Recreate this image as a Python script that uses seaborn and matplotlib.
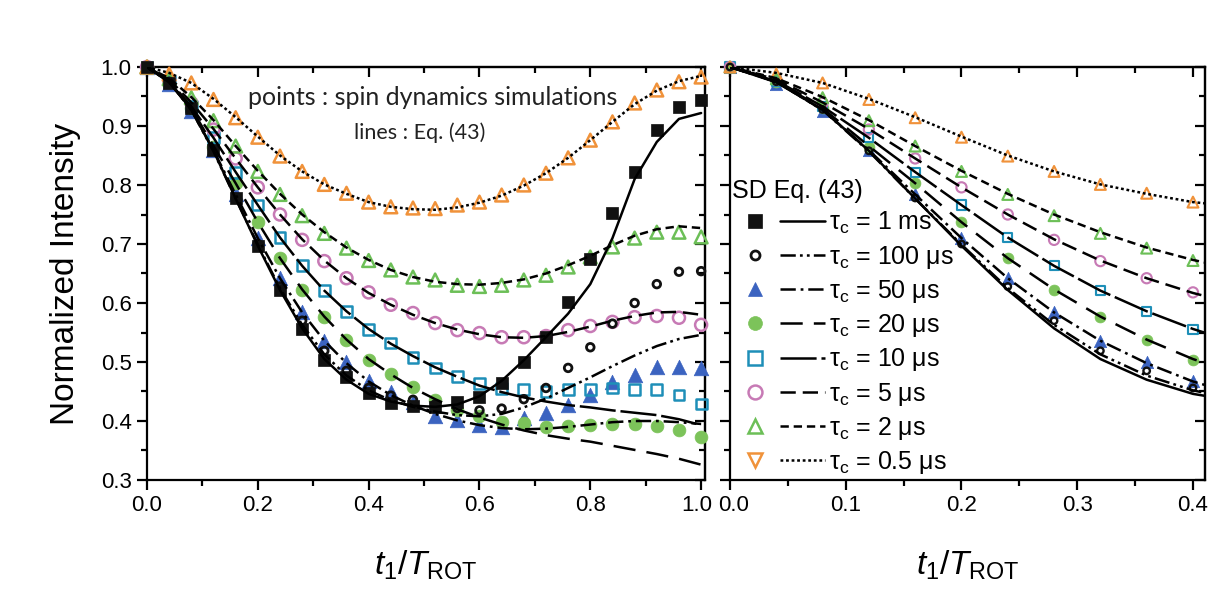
import matplotlib
matplotlib.use("Agg")
import matplotlib.pyplot as plt
import matplotlib.transforms as mtransforms
import seaborn as sns
from matplotlib.ticker import MultipleLocator, FormatStrFormatter, NullFormatter
from matplotlib.lines import Line2D
from matplotlib.legend_handler import HandlerTuple

sns.set_theme(style="white")
plt.rcParams['font.family'] = ['Liberation Sans', 'DejaVu Sans']
plt.rcParams['mathtext.fontset'] = 'custom'
plt.rcParams['mathtext.rm'] = 'Liberation Sans'
plt.rcParams['mathtext.it'] = 'Liberation Sans:italic'
plt.rcParams['mathtext.bf'] = 'Liberation Sans:bold'
plt.rcParams['lines.scale_dashes'] = False

# ---------------- data ----------------
t1 = [0.00, 0.04, 0.08, 0.12, 0.16, 0.20, 0.24, 0.28, 0.32, 0.36, 0.40, 0.44, 0.48,
      0.52, 0.56, 0.60, 0.64, 0.68, 0.72, 0.76, 0.80, 0.84, 0.88, 0.92, 0.96, 1.00]

# spin dynamics simulations (points)
sd_1ms = [1.000, 0.973, 0.930, 0.860, 0.778, 0.697, 0.622, 0.556, 0.503, 0.475, 0.447, 0.431, 0.426,
          0.424, 0.432, 0.441, 0.464, 0.500, 0.542, 0.602, 0.675, 0.752, 0.822, 0.893, 0.932, 0.944]
sd_100us = [1.000, 0.975, 0.928, 0.858, 0.778, 0.700, 0.628, 0.570, 0.519, 0.485, 0.456, 0.443, 0.436,
            0.428, 0.422, 0.418, 0.421, 0.437, 0.456, 0.490, 0.525, 0.565, 0.600, 0.632, 0.653, 0.654]
sd_50us = [1.000, 0.972, 0.926, 0.860, 0.785, 0.710, 0.642, 0.585, 0.535, 0.500, 0.467, 0.449, 0.433,
           0.408, 0.402, 0.394, 0.390, 0.405, 0.414, 0.427, 0.444, 0.466, 0.478, 0.492, 0.492, 0.489]
sd_20us = [1.000, 0.974, 0.930, 0.865, 0.803, 0.737, 0.676, 0.622, 0.576, 0.537, 0.504, 0.480, 0.458,
           0.436, 0.419, 0.408, 0.398, 0.397, 0.390, 0.392, 0.393, 0.395, 0.395, 0.392, 0.384, 0.373]
sd_10us = [1.000, 0.976, 0.933, 0.880, 0.821, 0.766, 0.711, 0.664, 0.621, 0.586, 0.555, 0.532, 0.508,
           0.490, 0.475, 0.464, 0.455, 0.453, 0.450, 0.453, 0.454, 0.456, 0.454, 0.453, 0.444, 0.429]
sd_5us = [1.000, 0.978, 0.939, 0.894, 0.845, 0.796, 0.750, 0.707, 0.671, 0.642, 0.618, 0.597, 0.583,
          0.566, 0.554, 0.549, 0.542, 0.542, 0.544, 0.554, 0.561, 0.568, 0.576, 0.578, 0.575, 0.563]
sd_2us = [1.000, 0.980, 0.948, 0.909, 0.866, 0.823, 0.784, 0.748, 0.718, 0.693, 0.672, 0.656, 0.644,
          0.639, 0.630, 0.628, 0.630, 0.639, 0.647, 0.661, 0.678, 0.695, 0.710, 0.720, 0.720, 0.712]
sd_05us = [1.000, 0.988, 0.973, 0.945, 0.914, 0.881, 0.849, 0.823, 0.801, 0.786, 0.771, 0.763, 0.761,
           0.760, 0.766, 0.771, 0.783, 0.800, 0.820, 0.846, 0.876, 0.907, 0.939, 0.961, 0.975, 0.983]

# Eq. (43) (lines)
eq_1ms = [1.000, 0.974, 0.928, 0.858, 0.777, 0.697, 0.622, 0.557, 0.505, 0.470, 0.446, 0.433, 0.426,
          0.424, 0.428, 0.442, 0.468, 0.503, 0.542, 0.582, 0.632, 0.710, 0.810, 0.873, 0.912, 0.922]
eq_100us = [1.000, 0.975, 0.927, 0.857, 0.777, 0.699, 0.625, 0.563, 0.513, 0.477, 0.452, 0.435, 0.424,
            0.416, 0.410, 0.408, 0.412, 0.423, 0.438, 0.456, 0.474, 0.493, 0.511, 0.527, 0.539, 0.546]
eq_50us = [1.000, 0.975, 0.927, 0.859, 0.784, 0.710, 0.642, 0.584, 0.536, 0.498, 0.467, 0.444, 0.426,
           0.412, 0.401, 0.393, 0.388, 0.386, 0.387, 0.390, 0.394, 0.398, 0.400, 0.400, 0.398, 0.395]
eq_20us = [1.000, 0.975, 0.930, 0.866, 0.803, 0.737, 0.676, 0.623, 0.577, 0.538, 0.505, 0.479, 0.456,
           0.437, 0.420, 0.406, 0.394, 0.384, 0.376, 0.370, 0.365, 0.358, 0.351, 0.344, 0.336, 0.326]
eq_10us = [1.000, 0.977, 0.933, 0.880, 0.822, 0.766, 0.711, 0.663, 0.621, 0.586, 0.556, 0.531, 0.510,
           0.491, 0.475, 0.460, 0.449, 0.440, 0.433, 0.427, 0.423, 0.418, 0.414, 0.410, 0.403, 0.393]
eq_5us = [1.000, 0.979, 0.940, 0.895, 0.845, 0.796, 0.750, 0.708, 0.672, 0.642, 0.617, 0.597, 0.580,
          0.566, 0.555, 0.547, 0.542, 0.541, 0.544, 0.551, 0.560, 0.570, 0.578, 0.584, 0.585, 0.580]
eq_2us = [1.000, 0.981, 0.949, 0.910, 0.866, 0.824, 0.785, 0.750, 0.720, 0.694, 0.673, 0.656, 0.644,
          0.636, 0.632, 0.631, 0.634, 0.640, 0.650, 0.664, 0.680, 0.698, 0.714, 0.725, 0.730, 0.727]
eq_05us = [1.000, 0.990, 0.973, 0.946, 0.915, 0.882, 0.850, 0.823, 0.801, 0.785, 0.771, 0.763, 0.759,
           0.758, 0.762, 0.770, 0.782, 0.799, 0.820, 0.846, 0.876, 0.907, 0.937, 0.960, 0.976, 0.985]

labels = ["τ$_{\\rm c}$ = 1 ms", "τ$_{\\rm c}$ = 100 μs", "τ$_{\\rm c}$ = 50 μs",
          "τ$_{\\rm c}$ = 20 μs", "τ$_{\\rm c}$ = 10 μs", "τ$_{\\rm c}$ = 5 μs",
          "τ$_{\\rm c}$ = 2 μs", "τ$_{\\rm c}$ = 0.5 μs"]
points = [sd_1ms, sd_100us, sd_50us, sd_20us, sd_10us, sd_5us, sd_2us, sd_05us]
lines = [eq_1ms, eq_100us, eq_50us, eq_20us, eq_10us, eq_5us, eq_2us, eq_05us]

# ---------------- styles ----------------
colors = ["#111111", "#111111", "#3b63c0", "#7cc35a", "#1e8fb8", "#c77ab5", "#6cbf57", "#f0923a"]
markers = ["s", "o", "^", "o", "s", "o", "^", "^"]
legend_markers = ["s", "o", "^", "o", "s", "o", "^", "v"]
filled = [True, False, True, True, False, False, False, False]
msize = [80, 30, 110, 85, 60, 75, 85, 85]
medge = [0.5, 2.0, 0.5, 0.5, 1.8, 1.8, 1.8, 1.8]
dashes = ['-', (0, (11, 3, 2, 3, 2, 3)), (0, (11, 3.5, 2, 3.5)), (0, (16, 8)),
          (0, (26, 3.5)), (0, (11, 5)), (0, (6, 3.5)), (0, (2, 2))]
show_right = [False, True, True, True, True, True, True, True]
draw_order = [2, 3, 4, 5, 6, 7, 1, 0]

LW = 1.8
SPW = 1.6
TICKFS = 16

fig = plt.figure(figsize=(12.21, 5.96), dpi=100)
fig.patch.set_facecolor('white')
axL = fig.add_axes([147 / 1221, 1 - 480 / 596, (705 - 147) / 1221, 413 / 596])
axR = fig.add_axes([730 / 1221, 1 - 480 / 596, (1205 - 730) / 1221, 413 / 596])


def draw(ax, right):
    scale = 0.72 if right else 1.0
    for i in draw_order:
        if right and not show_right[i]:
            continue
        if filled[i]:
            sns.scatterplot(x=t1, y=points[i], ax=ax, marker=markers[i], s=msize[i] * scale,
                            fc=colors[i], ec=colors[i], linewidth=medge[i],
                            zorder=3, clip_on=False, legend=False)
        else:
            sns.scatterplot(x=t1, y=points[i], ax=ax, marker=markers[i], s=msize[i] * scale,
                            fc='none', ec=colors[i], linewidth=medge[i] * (0.85 if right else 1.0),
                            zorder=3, clip_on=False, legend=False)
    for i in range(8):
        sns.lineplot(x=t1, y=lines[i], ax=ax, color='black', linewidth=LW,
                     linestyle=dashes[i], zorder=4, errorbar=None, legend=False)


def style_axes(ax, xmax, xmaj, xmin_, ylabels):
    ax.set_xlim(0, xmax)
    ax.set_ylim(0.3, 1.0)
    ax.set_facecolor('white')
    for s in ax.spines.values():
        s.set_visible(True)
        s.set_linewidth(SPW)
        s.set_color('black')
    ax.xaxis.set_major_locator(MultipleLocator(xmaj))
    ax.xaxis.set_minor_locator(MultipleLocator(xmin_))
    ax.yaxis.set_major_locator(MultipleLocator(0.1))
    ax.yaxis.set_minor_locator(MultipleLocator(0.05))
    ax.xaxis.set_major_formatter(FormatStrFormatter('%.1f'))
    ax.yaxis.set_major_formatter(FormatStrFormatter('%.1f'))
    ax.tick_params(which='both', direction='out', top=False, right=False,
                   bottom=True, left=True, width=SPW, color='black',
                   labelsize=TICKFS, labelcolor='black', pad=4)
    ax.tick_params(which='major', length=7)
    ax.tick_params(which='minor', length=4)
    if not ylabels:
        ax.yaxis.set_major_formatter(NullFormatter())
    top = ax.secondary_xaxis('top')
    top.xaxis.set_major_locator(MultipleLocator(xmaj))
    top.xaxis.set_minor_locator(MultipleLocator(xmin_))
    top.xaxis.set_major_formatter(NullFormatter())
    top.tick_params(which='both', direction='in', width=SPW, color='black')
    top.tick_params(which='major', length=7)
    top.tick_params(which='minor', length=4)
    top.spines['top'].set_linewidth(SPW)
    rt = ax.secondary_yaxis('right')
    rt.yaxis.set_major_locator(MultipleLocator(0.1))
    rt.yaxis.set_minor_locator(MultipleLocator(0.05))
    rt.yaxis.set_major_formatter(NullFormatter())
    rt.tick_params(which='both', direction='in', width=SPW, color='black')
    rt.tick_params(which='major', length=7)
    rt.tick_params(which='minor', length=4)
    rt.spines['right'].set_linewidth(SPW)
    ax.set_xlabel(r'$t_{1}/T_{\mathrm{ROT}}$', fontsize=24, labelpad=23, color='black')


draw(axL, False)
draw(axR, True)
style_axes(axL, 1.007, 0.2, 0.1, True)
style_axes(axR, 0.4104, 0.1, 0.05, False)
axL.set_ylabel('Normalized Intensity', fontsize=24, labelpad=14, color='black')
axR.set_ylabel('')

axL.text(0.5125, 0.925, 'points : spin dynamics simulations', transform=axL.transAxes,
         ha='center', va='center', fontsize=18, family=['Lato', 'DejaVu Sans'], color='#222222')
axL.text(0.489, 0.840, 'lines : Eq. (43)', transform=axL.transAxes,
         ha='center', va='center', fontsize=15.5, family=['Lato', 'DejaVu Sans'], color='#222222')

handles = []
for i in range(8):
    mk = Line2D([], [], marker=legend_markers[i], linestyle='none',
                markersize=10 if i != 1 else 6.5,
                markerfacecolor=colors[i] if filled[i] else 'none',
                markeredgecolor=colors[i], markeredgewidth=medge[i] if not filled[i] else 0.5)
    ln = Line2D([], [], color='black', linewidth=LW, linestyle=dashes[i])
    handles.append((mk, ln))

leg = axR.legend(handles, labels, handler_map={tuple: HandlerTuple(ndivide=None, pad=0.1)},
                 title='SD Eq. (43)', loc='upper left', bbox_to_anchor=(0.0, 0.735),
                 frameon=False, fontsize=18, title_fontsize=18, handlelength=3.7,
                 handletextpad=0.15, labelspacing=0.29, borderaxespad=0.0, borderpad=0.1,
                 alignment='left')
for txt in leg.get_texts():
    txt.set_color('black')
leg.get_title().set_color('black')

# nudge the two adjacent tick labels at the panel junction apart
fig.canvas.draw()
for tick in axL.xaxis.get_major_ticks():
    if tick.label1.get_text() == '1.0':
        tick.label1.set_transform(tick.label1.get_transform() +
                                  mtransforms.ScaledTranslation(-4 / 100, 0, fig.dpi_scale_trans))
for tick in axR.xaxis.get_major_ticks():
    if tick.label1.get_text() == '0.0':
        tick.label1.set_transform(tick.label1.get_transform() +
                                  mtransforms.ScaledTranslation(4 / 100, 0, fig.dpi_scale_trans))

fig.savefig('out.png', dpi=100, facecolor='white')
